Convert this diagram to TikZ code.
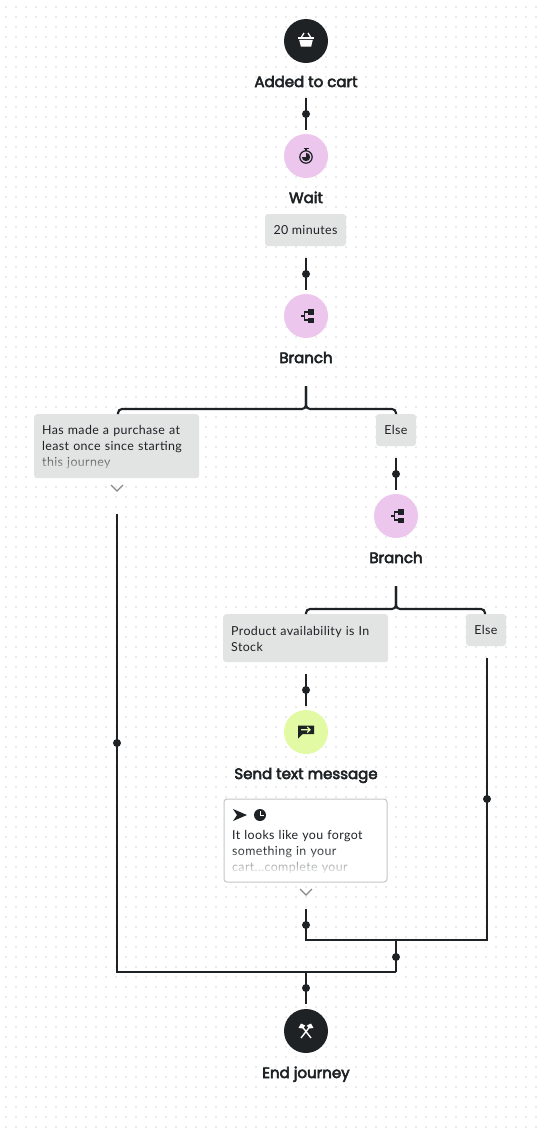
\documentclass[tikz,border=0pt]{standalone}
\usepackage{fontspec}
\usetikzlibrary{fadings}
\setmainfont{Lato}
\newfontfamily\headfont[FakeBold=3.6]{Poppins}
\newfontfamily\bodyfont[LetterSpace=3.0]{Lato}
\definecolor{ink}{HTML}{1E2225}
\definecolor{pinkfill}{HTML}{ECC6EC}
\definecolor{greenfill}{HTML}{E1FAA3}
\definecolor{chipfill}{HTML}{E2E3E3}
\definecolor{boxline}{HTML}{C4C5C5}
\definecolor{griddot}{HTML}{EAEAEA}
\definecolor{chev}{HTML}{85898A}
\tikzset{
  x=1pt,y=-1pt,
  wire/.style={draw=ink,line width=2.1pt},
  knob/.style={circle,fill=ink,minimum size=8pt,inner sep=0pt},
  stage/.style={circle,minimum size=44pt,inner sep=0pt},
  darkstage/.style={stage,fill=ink},
  pinkstage/.style={stage,fill=pinkfill},
  greenstage/.style={stage,fill=greenfill},
  title/.style={font=\headfont\fontsize{15}{18}\selectfont,text=ink,inner sep=0pt,anchor=base},
  chip/.style={fill=chipfill,rounded corners=3pt,text=ink,inner xsep=8pt,inner ysep=0pt,
    font=\bodyfont\fontsize{12.4}{16}\selectfont,align=left,anchor=north west},
  tag/.style={chip,minimum height=32pt,align=center,anchor=center,inner xsep=0pt},
  chevron/.style={draw=chev,line width=1.2pt},
}
\begin{document}
\begin{tikzpicture}
\useasboundingbox (0,0) rectangle (545,1136);
\fill[white] (0,0) rectangle (545,1136);
\foreach \i in {0,...,54}{\foreach \j in {0,...,113}{
  \fill[griddot] ({4.5+10*\i},{5.5+10*\j}) rectangle ++(2,2);}}

% stages
\node[darkstage] (cart) at (306,41) {};
\node[title] (cartT) at (306,87) {Added to cart};
\node[pinkstage] (wait) at (306,156) {};
\node[title] (waitT) at (306,203) {Wait};
\node[tag,minimum width=81pt] (mins) at (305.5,230) {20 minutes};
\node[pinkstage] (branchA) at (306,316) {};
\node[title] (branchAT) at (306,363) {Branch};
\node[chip,text width=149pt,minimum height=64pt] (chipHas) at (34,414) {\rule{0pt}{11pt}Has made a purchase at\\least once since starting\\this journey};
\fill[chipfill,path fading=north] (36,451) rectangle (197,475);
\node[tag,minimum width=40pt] (elseA) at (396,430) {Else};
\node[pinkstage] (branchB) at (396,516) {};
\node[title] (branchBT) at (396,563) {Branch};
\node[chip,text width=149pt,minimum height=48pt] (chipStock) at (223,614) {\rule{0pt}{11pt}Product availability is In\\Stock};
\node[tag,minimum width=40pt] (elseB) at (486,630) {Else};
\node[greenstage] (sms) at (306,732) {};
\node[title] (smsT) at (306,779) {Send text message};
\node[chip,fill=white,draw=boxline,line width=1pt,text width=147pt,minimum height=83pt] (msg) at (223.5,798.5) {};
\node[font=\bodyfont\fontsize{12.4}{16}\selectfont,text=ink,align=left,anchor=north west,inner sep=0pt,text width=149pt] (msgT) at (232,830) {It looks like you forgot\\something in your\\cart...complete your};
\fill[white,path fading=north] (225,847) rectangle (386,875);
\fill[white] (225,875) rectangle (386,880);
\node[darkstage] (endj) at (306,1031) {};
\node[title] (endjT) at (306,1078) {End journey};

% junctions and ends
\coordinate (a1) at (306,98);  \coordinate (a2) at (306,130);
\coordinate (b1) at (306,258); \coordinate (b2) at (306,290);
\coordinate (s1) at (306,386); \coordinate (j1) at (306,409);
\coordinate (hasIn) at (118,414); \coordinate (elseAIn) at (396,414);
\coordinate (c1) at (396,458); \coordinate (c2) at (396,490);
\coordinate (s2) at (396,586); \coordinate (j2) at (396,609);
\coordinate (stockIn) at (306,614); \coordinate (elseBIn) at (485,614);
\coordinate (d1) at (306,674); \coordinate (d2) at (306,706);
\coordinate (hasOut) at (117,514); \coordinate (mergeA) at (396,972);
\coordinate (elseOut) at (487,658); \coordinate (msgOut) at (306,909);
\coordinate (mergeB) at (396,940); \coordinate (e2) at (306,1004);

% connectors
\draw[wire] (a1) -- (a2);
\draw[wire] (b1) -- (b2);
\draw[wire,rounded corners=4pt] (hasIn) -- (hasIn |- j1) -- (j1) -- (s1);
\draw[wire,rounded corners=4pt] (elseAIn) -- (elseAIn |- j1) -- (j1) -- (s1);
\draw[wire] (c1) -- (c2);
\draw[wire,rounded corners=4pt] (stockIn) -- (stockIn |- j2) -- (j2) -- (s2);
\draw[wire,rounded corners=4pt] (elseBIn) -- (elseBIn |- j2) -- (j2) -- (s2);
\draw[wire] (d1) -- (d2);
\draw[wire] (hasOut) -- (hasOut |- mergeA) -- (mergeA);
\draw[wire] (elseOut) -- (elseOut |- mergeB) -- (mergeB);
\draw[wire] (msgOut) -- (msgOut |- mergeB) -- (mergeB);
\draw[wire] (mergeB) -- (mergeA);
\draw[wire] (mergeA) -- (mergeA -| e2) -- (e2);

% knobs
\node[knob] (k1) at (306,114) {};
\node[knob] (k2) at (306,274) {};
\node[knob] (k3) at (396,474) {};
\node[knob] (k4) at (306,690) {};
\node[knob] (k5) at (117,743) {};
\node[knob] (k6) at (487,799) {};
\node[knob] (k7) at (306,925) {};
\node[knob] (k8) at (396,957) {};
\node[knob] (k9) at (306,988) {};

% chevrons
\draw[chevron] (111,485) -- (117,491) -- (123,485);
\draw[chevron] (300,889) -- (306,895) -- (312,889);

% basket icon
\begin{scope}[shift={(cart.center)}]
  \fill[white] (-8,-4.5) rectangle (8,-2.2);
  \fill[white] (-6.8,-1.2) -- (6.8,-1.2) -- (5.2,5.5) -- (-5.2,5.5) -- cycle;
  \draw[white,line width=1.3pt] (-4.5,-4) -- (-2,-8) (4.5,-4) -- (2,-8);
\end{scope}
% stopwatch icons
\begin{scope}[shift={(wait.center)}]
  \draw[ink,line width=1.2pt] (0,1) circle (6.2);
  \fill[ink] (0,1) -- (0,-3.2) arc[start angle=-90,end angle=180,radius=4.2] -- cycle;
  \draw[ink,line width=1.2pt] (-2.5,-7.5) -- (2.5,-7.5) (0,-7.5) -- (0,-5);
\end{scope}
% branch icons
\foreach \c in {branchA,branchB}{
\begin{scope}[shift={(\c.center)}]
  \fill[ink] (2,-7) rectangle (7.5,-1.5);
  \fill[ink] (2,1.7) rectangle (7.5,7);
  \draw[ink,line width=1.4pt] (2,-4) -- (-1.5,-4) -- (-1.5,4) -- (2,4) (-1.5,0) -- (-5.5,0);
\end{scope}}
% message icon
\begin{scope}[shift={(sms.center)}]
  \fill[ink] (-8,-6.5) rectangle (8,2) (-8,2) -- (-8,6.5) -- (-3.5,2) -- cycle;
  \draw[greenfill,line width=1.2pt] (-5,-2.2) -- (4,-2.2) (1.2,-5) -- (4,-2.2) -- (1.2,0.6);
\end{scope}
% send and clock glyphs
\fill[ink] (233,809) -- (247,815) -- (233,821) -- (237,815) -- cycle;
\fill[ink] (260,815) circle (6);
\draw[white,line width=1pt] (260,811) -- (260,815.5) -- (264,815.5);
% axes icon
\begin{scope}[shift={(endj.center)}]
  \draw[white,line width=1.4pt] (-5,7) -- (3.5,-4) (5,7) -- (-3.5,-4);
  \fill[white] (-7.5,-3) -- (-5,-7.5) -- (-0.8,-5.5) -- (-3,-2.5) -- cycle;
  \fill[white] (7.5,-3) -- (5,-7.5) -- (0.8,-5.5) -- (3,-2.5) -- cycle;
\end{scope}
\end{tikzpicture}
\end{document}
